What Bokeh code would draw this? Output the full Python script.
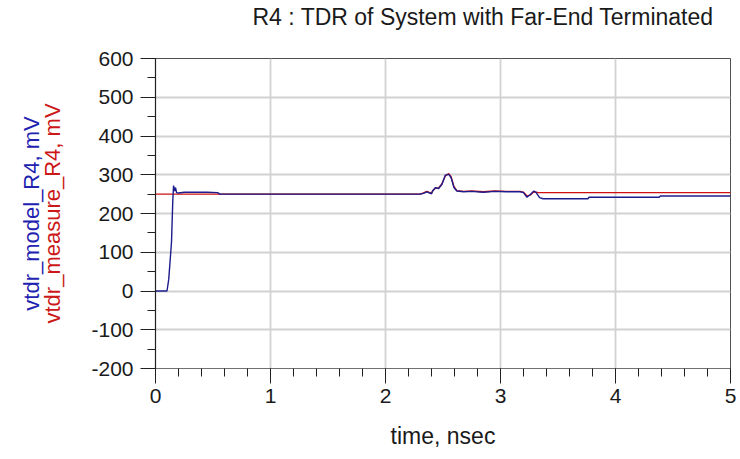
from bokeh.plotting import figure
from bokeh.models import (Range1d, SingleIntervalTicker, Title, PrintfTickFormatter,
                          LinearAxis, FixedTicker)
from bokeh.embed import file_html
from bokeh.resources import INLINE

# ---- data ----
t_model = [0, 0.10, 0.115, 0.139, 0.150, 0.157, 0.166, 0.174, 0.183, 0.20, 0.25, 0.35, 0.45, 0.54, 0.56,
           2.30, 2.33, 2.36, 2.40, 2.41, 2.435, 2.46, 2.49, 2.52, 2.55, 2.57, 2.595, 2.62, 2.68, 2.75,
           2.85, 2.95, 3.05, 3.17, 3.20, 3.23, 3.26, 3.29, 3.31, 3.34, 3.37, 3.76, 3.77, 4.38, 4.39, 5.0]
v_model = [0, 0, 30, 125, 230, 272, 258, 267, 254, 253, 255, 255, 255, 254, 250,
           250, 252, 256, 251, 258, 267, 264, 275, 299, 301, 293, 267, 258, 256, 257,
           255, 257, 256, 256, 254, 242, 249, 258, 254, 241, 238, 238, 242, 242, 245, 245]

t_measure = [0, 2.30, 2.33, 2.36, 2.40, 2.41, 2.435, 2.46, 2.49, 2.52, 2.55, 2.57, 2.595, 2.62, 2.68,
             2.75, 2.85, 2.95, 3.05, 3.17, 3.20, 3.23, 3.26, 3.29, 3.31, 3.33, 5.0]
v_measure = [250, 250, 253, 257, 252, 259, 266, 265, 276, 297, 303, 295, 270, 259, 257,
             258, 256, 258, 257, 257, 255, 245, 248, 256, 255, 254, 254]

title_text = "R4 : TDR of System with Far-End Terminated"
x_label = "time, nsec"
y_label_model = "vtdr_model_R4, mV"
y_label_measure = "vtdr_measure_R4, mV"

FONT = "Liberation Sans"

p = figure(width=740, height=459, output_backend="svg", toolbar_location=None,
           x_range=Range1d(0, 5), y_range=Range1d(-200, 600),
           min_border_left=155, min_border_right=10, min_border_top=58, min_border_bottom=91)
p.background_fill_color = "white"
p.border_fill_color = "white"
p.outline_line_color = "#505050"
p.outline_line_width = 1

# real title (outermost panel above the frame)
p.title.text = title_text
p.title.text_font = FONT
p.title.text_font_size = "23px"
p.title.text_font_style = "normal"
p.title.text_color = "#1a1a1a"
p.title.align = "left"
p.title.offset = 97
p.title.standoff = 0

# spacer panel between title and frame so the title sits higher
p.add_layout(Title(text=" ", text_font_size="2px", standoff=25), "above")

p.xaxis.ticker = SingleIntervalTicker(interval=1, num_minor_ticks=5)
p.yaxis.ticker = SingleIntervalTicker(interval=100, num_minor_ticks=2)
p.yaxis.formatter = PrintfTickFormatter(format="%d")

for ax in (p.xaxis[0], p.yaxis[0]):
    ax.major_tick_out = 15
    ax.major_tick_in = 0
    ax.minor_tick_out = 8
    ax.minor_tick_in = 0
    ax.major_tick_line_color = "#202020"
    ax.minor_tick_line_color = "#202020"
    ax.major_label_text_font = FONT
    ax.major_label_text_font_size = "21px"
    ax.major_label_text_color = "#1a1a1a"
    ax.axis_line_color = "#202020"
    ax.axis_line_width = 1.2
    ax.axis_label_text_font = FONT
    ax.axis_label_text_font_style = "normal"
p.xaxis.axis_line_color = "#707070"
p.xaxis.major_label_standoff = 5
p.yaxis.major_label_standoff = 7

p.xaxis.axis_label = x_label
p.xaxis.axis_label_text_font_size = "23px"
p.xaxis.axis_label_text_color = "#1a1a1a"
p.xaxis.axis_label_standoff = 17

p.yaxis.axis_label = y_label_measure
p.yaxis.axis_label_text_font_size = "22px"
p.yaxis.axis_label_text_color = "#cc1818"
p.yaxis.axis_label_standoff = 23

# label-only axis carrying the blue y label, outside the red one
blue_axis = LinearAxis(ticker=FixedTicker(ticks=[]), axis_line_color=None,
                       major_tick_line_color=None, minor_tick_line_color=None,
                       major_tick_out=0, minor_tick_out=0, major_label_standoff=0,
                       axis_label=y_label_model, axis_label_text_font=FONT,
                       axis_label_text_font_size="22px", axis_label_text_font_style="normal",
                       axis_label_text_color="#2222b0", axis_label_standoff=-6)
p.add_layout(blue_axis, "left")

p.xgrid.grid_line_color = "#d2d2d2"
p.ygrid.grid_line_color = "#d2d2d2"
p.xgrid.grid_line_width = 1.8
p.ygrid.grid_line_width = 1.8

p.line(t_measure, v_measure, line_color="#d01010", line_width=1.4)
p.line(t_model, v_model, line_color="#1c1c8c", line_width=1.4)

open("out.html", "w").write(file_html(p, INLINE))
